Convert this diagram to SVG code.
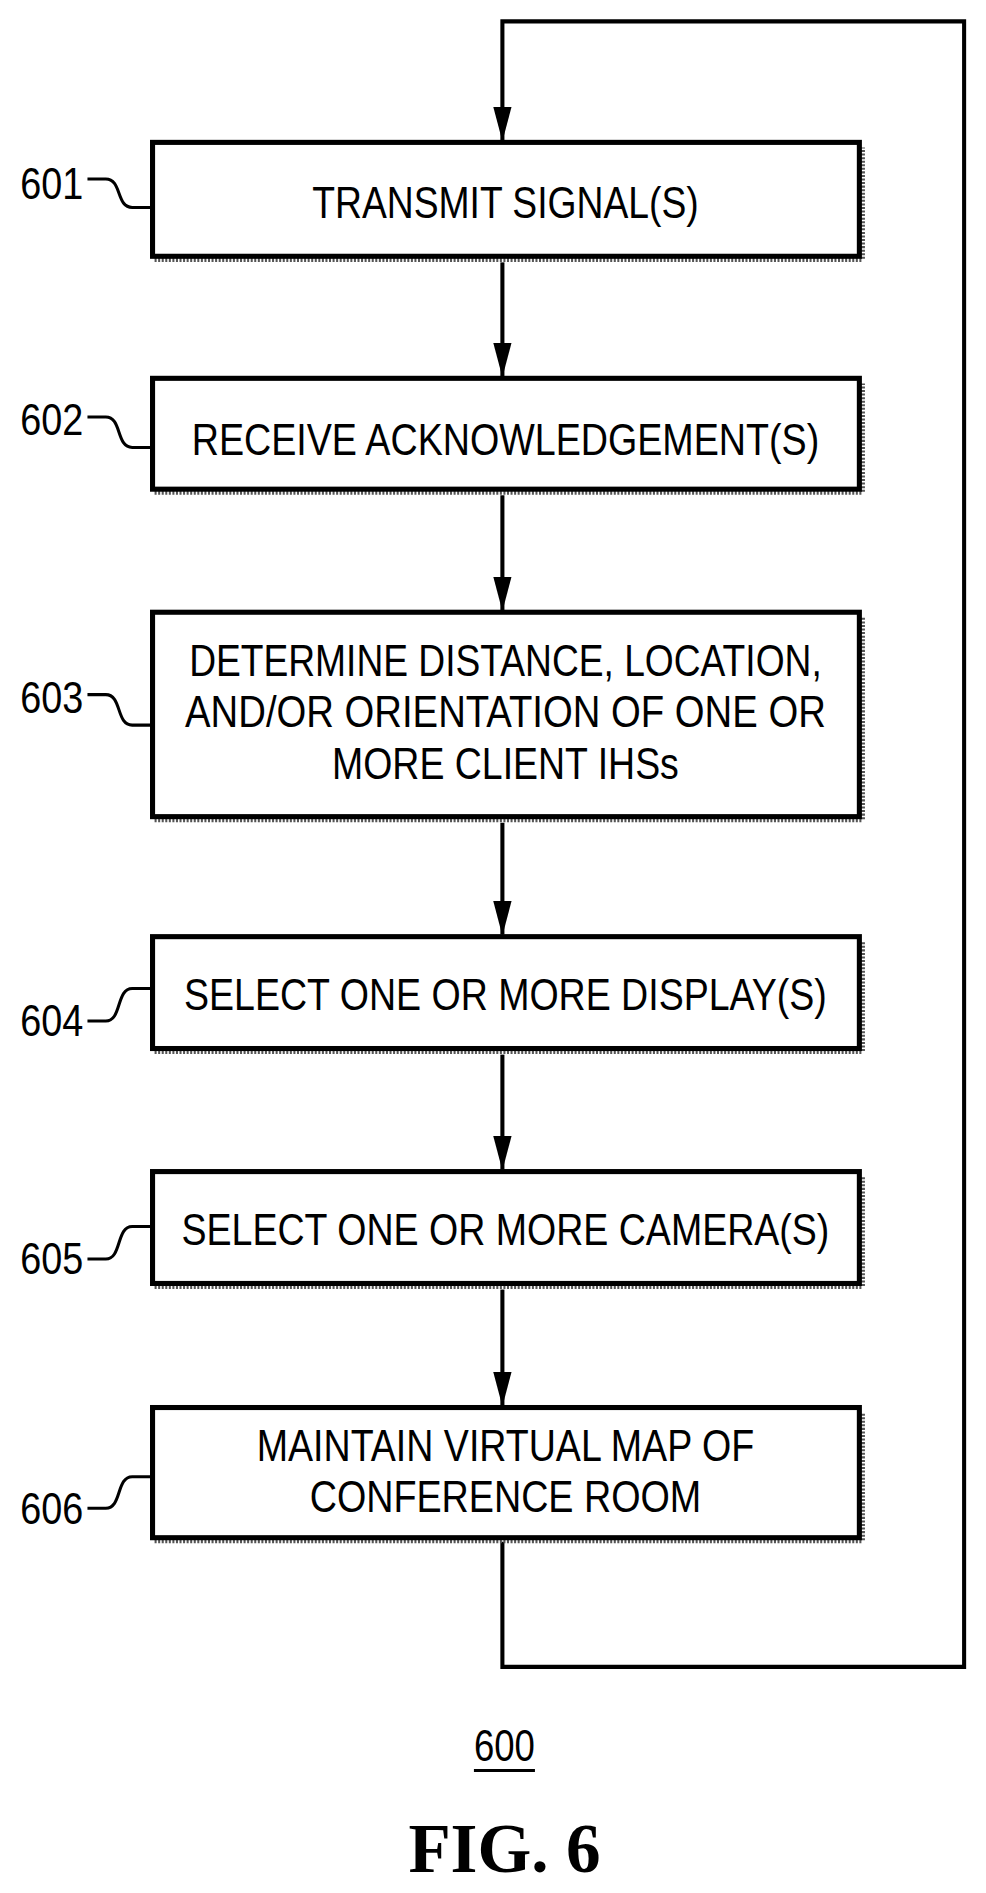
<svg xmlns="http://www.w3.org/2000/svg" width="986" height="1893" viewBox="0 0 986 1893">
<defs>
<marker id="ah" markerWidth="34" markerHeight="18" refX="33" refY="9" orient="auto" markerUnits="userSpaceOnUse" viewBox="0 0 34 18">
<path d="M0,0 L34,9 L0,18 Z" fill="#000"/>
</marker>
</defs>
<style>
.box{fill:#fff;stroke:#000;stroke-width:5}
.sh{fill:none;stroke:#555;stroke-width:5;stroke-dasharray:2 1.5}
.t{font-family:"Liberation Sans",Arial,sans-serif;font-size:44px;text-anchor:middle;fill:#000}
.lb{font-family:"Liberation Sans",Arial,sans-serif;font-size:44px;fill:#000}
.ld{fill:none;stroke:#000;stroke-width:3}
.c{fill:none;stroke:#000;stroke-width:4}
</style>
<g transform="scale(1.017)">
<g id="connectors">
<path class="c" d="M494,1516 V1639 H948 V21 H494 V138" marker-end="url(#ah)"/>
<path class="c" d="M494,258 V370" marker-end="url(#ah)"/>
<path class="c" d="M494,487 V600" marker-end="url(#ah)"/>
<path class="c" d="M494,809 V919" marker-end="url(#ah)"/>
<path class="c" d="M494,1037 V1150" marker-end="url(#ah)"/>
<path class="c" d="M494,1268 V1382" marker-end="url(#ah)"/>
</g>
<g id="n601">
<path class="sh" d="M152,255 H848 V145"/>
<rect class="box" x="150" y="140" width="695" height="112"/>
<text class="t" x="497" y="214" textLength="380" lengthAdjust="spacingAndGlyphs">TRANSMIT SIGNAL(S)</text>
<text class="lb" x="20" y="196" textLength="62" lengthAdjust="spacingAndGlyphs">601</text>
<path class="ld" d="M86,176 H104 C120,176 114,204 130,204 H150"/>
</g>
<g id="n602">
<path class="sh" d="M152,484 H848 V377"/>
<rect class="box" x="150" y="372" width="695" height="109"/>
<text class="t" x="497" y="447" textLength="617" lengthAdjust="spacingAndGlyphs">RECEIVE ACKNOWLEDGEMENT(S)</text>
<text class="lb" x="20" y="428" textLength="62" lengthAdjust="spacingAndGlyphs">602</text>
<path class="ld" d="M86,410 H104 C120,410 114,440 130,440 H150"/>
</g>
<g id="n603">
<path class="sh" d="M152,806 H848 V607"/>
<rect class="box" x="150" y="602" width="695" height="201"/>
<text class="t" x="497" y="665" textLength="622" lengthAdjust="spacingAndGlyphs">DETERMINE DISTANCE, LOCATION,</text>
<text class="t" x="497" y="715" textLength="630" lengthAdjust="spacingAndGlyphs">AND/OR ORIENTATION OF ONE OR</text>
<text class="t" x="497" y="766" textLength="341" lengthAdjust="spacingAndGlyphs">MORE CLIENT IHSs</text>
<text class="lb" x="20" y="701" textLength="62" lengthAdjust="spacingAndGlyphs">603</text>
<path class="ld" d="M86,683 H104 C120,683 114,713 130,713 H150"/>
</g>
<g id="n604">
<path class="sh" d="M152,1034 H848 V926"/>
<rect class="box" x="150" y="921" width="695" height="110"/>
<text class="t" x="497" y="993" textLength="632" lengthAdjust="spacingAndGlyphs">SELECT ONE OR MORE DISPLAY(S)</text>
<text class="lb" x="20" y="1019" textLength="62" lengthAdjust="spacingAndGlyphs">604</text>
<path class="ld" d="M86,1004 H104 C120,1004 114,972 130,972 H150"/>
</g>
<g id="n605">
<path class="sh" d="M152,1265 H848 V1157"/>
<rect class="box" x="150" y="1152" width="695" height="110"/>
<text class="t" x="497" y="1224" textLength="637" lengthAdjust="spacingAndGlyphs">SELECT ONE OR MORE CAMERA(S)</text>
<text class="lb" x="20" y="1253" textLength="62" lengthAdjust="spacingAndGlyphs">605</text>
<path class="ld" d="M86,1238 H104 C120,1238 114,1206 130,1206 H150"/>
</g>
<g id="n606">
<path class="sh" d="M152,1515 H848 V1389"/>
<rect class="box" x="150" y="1384" width="695" height="128"/>
<text class="t" x="497" y="1437" textLength="489" lengthAdjust="spacingAndGlyphs">MAINTAIN VIRTUAL MAP OF</text>
<text class="t" x="497" y="1487" textLength="385" lengthAdjust="spacingAndGlyphs">CONFERENCE ROOM</text>
<text class="lb" x="20" y="1499" textLength="62" lengthAdjust="spacingAndGlyphs">606</text>
<path class="ld" d="M86,1483 H104 C120,1483 114,1452 130,1452 H150"/>
</g>
<g id="caption">
<text class="t" x="496" y="1732" textLength="60" lengthAdjust="spacingAndGlyphs">600</text>
<line x1="466" y1="1741" x2="526" y2="1741" stroke="#000" stroke-width="3"/>
<text x="496" y="1841" font-family="'Liberation Serif','Times New Roman',serif" font-weight="bold" font-size="68" text-anchor="middle">FIG. 6</text>
</g>
</g>
</svg>
